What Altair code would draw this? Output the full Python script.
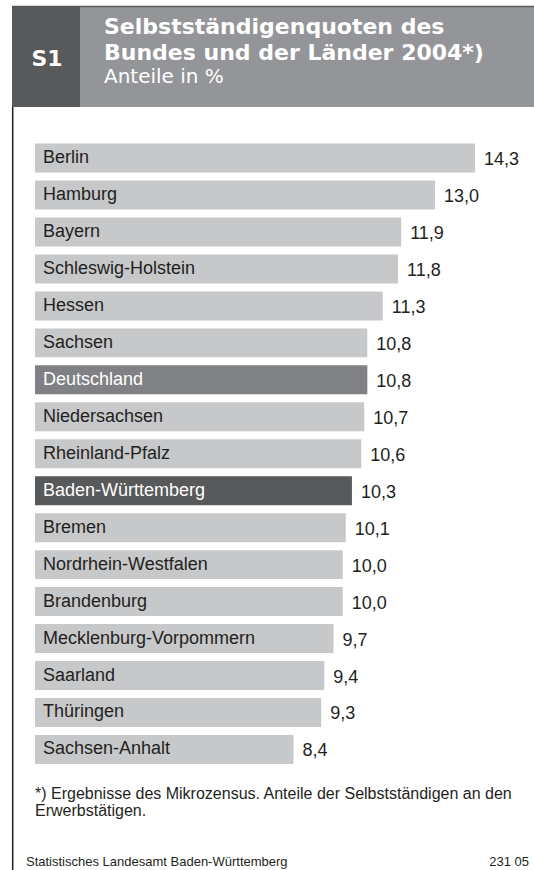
import altair as alt
import pandas as pd

laender = ["Berlin", "Hamburg", "Bayern", "Schleswig-Holstein", "Hessen", "Sachsen",
           "Deutschland", "Niedersachsen", "Rheinland-Pfalz", "Baden-Württemberg",
           "Bremen", "Nordrhein-Westfalen", "Brandenburg", "Mecklenburg-Vorpommern",
           "Saarland", "Thüringen", "Sachsen-Anhalt"]
werte = [14.3, 13.0, 11.9, 11.8, 11.3, 10.8, 10.8, 10.7, 10.6, 10.3,
         10.1, 10.0, 10.0, 9.7, 9.4, 9.3, 8.4]
typ = ["Land"] * len(laender)
typ[laender.index("Deutschland")] = "Bund"
typ[laender.index("Baden-Württemberg")] = "BW"

titel1 = "Selbstständigenquoten des"
titel2 = "Bundes und der Länder 2004*)"
untertitel = "Anteile in %"
kennung = "S1"
fussnote1 = "*) Ergebnisse des Mikrozensus. Anteile der Selbstständigen an den"
fussnote2 = "Erwerbstätigen."
quelle = "Statistisches Landesamt Baden-Württemberg"
nummer = "231 05"

df = pd.DataFrame({"land": laender, "wert": werte, "typ": typ})
one = pd.DataFrame({"a": [0]})

FONT = "Liberation Sans"
HFONT = "DejaVu Sans"

xs = alt.Scale(domain=[0, 16], range=[35, 35 + 16 * 30.77])
ys = alt.Scale(range=[139.6, 767.9], paddingInner=0.216, paddingOuter=0.108)

base = alt.Chart(df)

bars = base.mark_bar().encode(
    y=alt.Y("land:N", sort=laender, scale=ys, axis=None),
    x=alt.X("wert:Q", scale=xs, axis=None),
    x2=alt.value(35),
    fill=alt.Fill("typ:N", scale=alt.Scale(domain=["Land", "Bund", "BW"],
                                           range=["#c7c8ca", "#808184", "#58595b"]),
                  legend=None),
)

namen = base.mark_text(align="left", baseline="middle", font=FONT, fontSize=18, dy=0).encode(
    y=alt.Y("land:N", sort=laender, scale=ys, axis=None),
    x=alt.value(43),
    text="land:N",
    color=alt.condition(alt.datum.typ == "Land", alt.value("#231f20"), alt.value("#ffffff")),
)

zahlen = base.transform_calculate(
    lab="replace(format(datum.wert, '.1f'), '.', ',')"
).mark_text(align="left", baseline="middle", font=FONT, fontSize=18, dx=9, dy=2,
            color="#231f20").encode(
    y=alt.Y("land:N", sort=laender, scale=ys, axis=None),
    x=alt.X("wert:Q", scale=xs, axis=None),
    text="lab:N",
)

deko = alt.Chart(one)
kopf_hell = deko.mark_rect(color="#939598").encode(
    x=alt.value(12), x2=alt.value(534), y=alt.value(6), y2=alt.value(107))
kopf_dunkel = deko.mark_rect(color="#58595b").encode(
    x=alt.value(12), x2=alt.value(80), y=alt.value(6), y2=alt.value(107))
kopf_linie = deko.mark_rule(color="#58595b", strokeWidth=1.5).encode(
    x=alt.value(12), x2=alt.value(534), y=alt.value(6.5))
linie = deko.mark_rule(color="#231f20", strokeWidth=1.5).encode(
    x=alt.value(12.7), y=alt.value(107), y2=alt.value(870))

def txt(s, x, y, size, font=FONT, weight="normal", color="#231f20", align="left"):
    return deko.mark_text(text=s, font=font, fontSize=size, fontWeight=weight,
                          color=color, align=align, baseline="alphabetic").encode(
        x=alt.value(x), y=alt.value(y))

texte = [
    txt(kennung, 47, 66, 22, HFONT, "bold", "#ffffff", "center"),
    txt(titel1, 104, 34, 22, HFONT, "bold", "#ffffff"),
    txt(titel2, 104, 60, 22, HFONT, "bold", "#ffffff"),
    txt(untertitel, 104, 83, 20, HFONT, "normal", "#ffffff"),
    txt(fussnote1, 35, 798.5, 16),
    txt(fussnote2, 35, 815.5, 16),
    txt(quelle, 26, 866, 13),
    txt(nummer, 529, 866, 13, align="right"),
]

chart = alt.layer(kopf_hell, kopf_dunkel, kopf_linie, linie, bars, namen, zahlen, *texte).properties(
    width=534, height=870,
    autosize=alt.AutoSizeParams(type="none"),
    padding={"left": 0, "top": 0, "right": 0, "bottom": 0},
    background="#ffffff",
).configure_view(stroke=None)

chart.save("out.html", embed_options={"renderer": "svg", "actions": False})
